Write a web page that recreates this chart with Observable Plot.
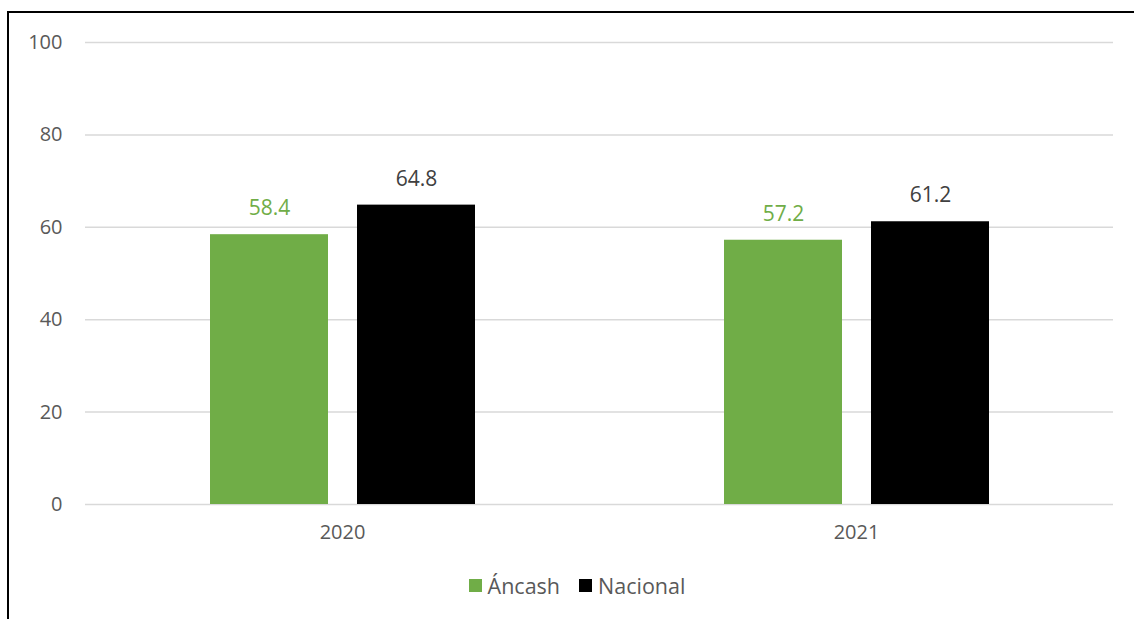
<!DOCTYPE html>
<html>
<head>
<meta charset="utf-8">
<script src="https://cdn.jsdelivr.net/npm/d3@7"></script>
<script src="https://cdn.jsdelivr.net/npm/@observablehq/plot@0.6"></script>
<style>
  html, body { margin: 0; padding: 0; background: #fff; }
  body { width: 1134px; height: 619px; overflow: hidden; position: relative; font-family: "Open Sans", "Liberation Sans", sans-serif; }
  #frame { position: absolute; left: 7px; top: 11px; width: 1200px; height: 700px; border-left: 2px solid #000; border-top: 2px solid #000; pointer-events: none; }
  #chart { position: absolute; left: 0; top: 0; }
  #legend { position: absolute; top: 571px; left: 10px; width: 1134px; display: flex; justify-content: center; gap: 19px; font-size: 21.5px; color: #595959; }
  #legend span.item { display: inline-flex; align-items: center; }
  #legend span.sw { display: inline-block; width: 13px; height: 13px; margin-right: 6px; }
</style>
</head>
<body>
<div id="chart"></div>
<div id="legend"></div>
<div id="frame"></div>
<script>
const years = ["2020", "2021"];
const series = ["Áncash", "Nacional"];
const ancashValues = [58.4, 57.2];
const nacionalValues = [64.8, 61.2];
const yTicks = [0, 20, 40, 60, 80, 100];
const colors = ["#70AD47", "#000000"];
const labelColors = ["#70AD47", "#404040"];

const data = [];
years.forEach((yr, i) => {
  data.push({year: yr, serie: series[0], value: ancashValues[i]});
  data.push({year: yr, serie: series[1], value: nacionalValues[i]});
});

const chart = Plot.plot({
  width: 1134,
  height: 560,
  marginLeft: 84,
  marginRight: 21,
  marginTop: 42,
  marginBottom: 56,
  style: {fontFamily: "'Open Sans', 'Liberation Sans', sans-serif", fontSize: "20px", color: "#595959", background: "transparent"},
  fx: {domain: years, padding: 0, label: null, tickSize: 0, tickPadding: 20, axis: "bottom"},
  x: {domain: series, paddingInner: 0.2, paddingOuter: 0.84, axis: null},
  y: {domain: [0, 100], ticks: yTicks, label: null, tickSize: 0, tickPadding: 23},
  color: {domain: series, range: colors},
  marks: [
    Plot.ruleY(yTicks, {stroke: "#d9d9d9", strokeWidth: 1.5}),
    Plot.barY(data, {fx: "year", x: "serie", y: "value", fill: "serie"}),
    Plot.text(data, {fx: "year", x: "serie", y: "value", text: d => d.value.toFixed(1), dy: -26,
      fill: d => labelColors[series.indexOf(d.serie)], fontSize: 21})
  ]
});
document.getElementById("chart").appendChild(chart);

const legend = document.getElementById("legend");
series.forEach((s, i) => {
  const item = document.createElement("span");
  item.className = "item";
  const sw = document.createElement("span");
  sw.className = "sw";
  sw.style.background = colors[i];
  item.appendChild(sw);
  item.appendChild(document.createTextNode(s));
  legend.appendChild(item);
});
</script>
</body>
</html>
